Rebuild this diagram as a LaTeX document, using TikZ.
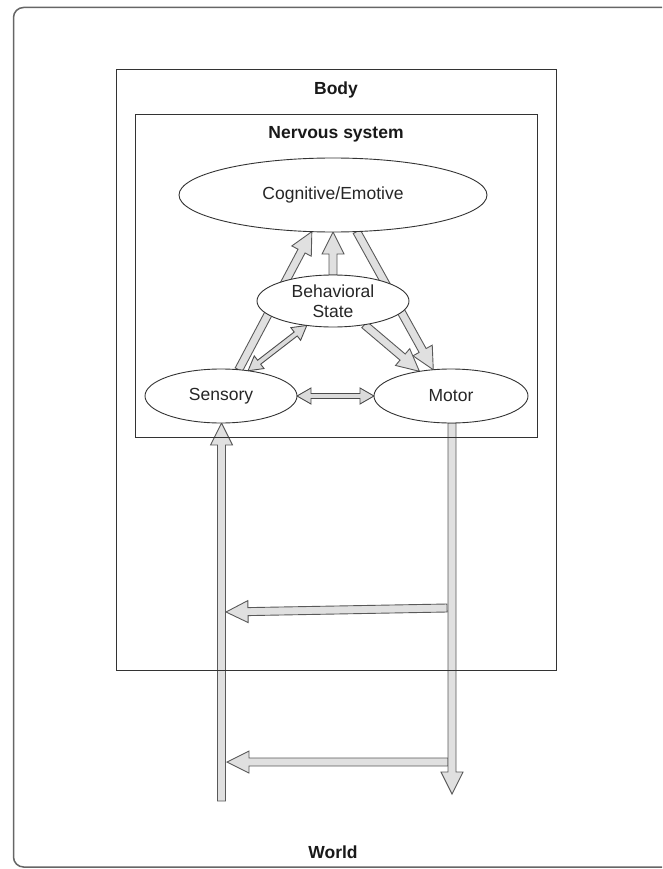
\documentclass[tikz,border=0pt]{standalone}
\usepackage{fontspec}
\setmainfont{Liberation Sans}
\usetikzlibrary{shapes.geometric,calc}
\pgfdeclarelayer{bg}
\pgfsetlayers{bg,main}
\tikzset{
  lbl/.style={font=\fontsize{17.5}{20}\selectfont, text=black!85},
  ttl/.style={font=\fontsize{17.5}{20}\selectfont\bfseries, text=black!90},
  ell/.style={ellipse, draw=black!80, line width=0.9pt, fill=white, inner sep=0pt, outer sep=0pt, align=center, lbl},
  boxline/.style={draw=black!80, line width=1pt},
  blockarrow/.style={draw=black!65, line width=0.9pt, fill=black!12, line join=miter},
  dblarrow/.style={draw=black!70, line width=0.9pt, fill=black!14, line join=miter},
}
\newcommand{\myarrowgeom}[2]{%
  \path let \p1=(#1), \p2=(#2) in \pgfextra{%
    \pgfmathparse{atan2(\y2-\y1,\x2-\x1)}\xdef\myang{\pgfmathresult}%
    \pgfmathparse{veclen(\x2-\x1,\y2-\y1)}\xdef\mylen{\pgfmathresult}};%
}
\newcommand{\sarrow}[2]{%
  \myarrowgeom{#1}{#2}%
  \draw[blockarrow, shift={(#1)}, rotate=\myang]
    (0pt,4pt) -- ({\mylen pt-22pt},4pt) -- ({\mylen pt-22pt},11pt) -- ({\mylen pt},0pt)
    -- ({\mylen pt-22pt},-11pt) -- ({\mylen pt-22pt},-4pt) -- (0pt,-4pt) -- cycle;
}
\newcommand{\darrow}[2]{%
  \myarrowgeom{#1}{#2}%
  \draw[dblarrow, shift={(#1)}, rotate=\myang]
    (0pt,0pt) -- (14pt,8pt) -- (14pt,2.5pt) -- ({\mylen pt-14pt},2.5pt) -- ({\mylen pt-14pt},8pt)
    -- ({\mylen pt},0pt) -- ({\mylen pt-14pt},-8pt) -- ({\mylen pt-14pt},-2.5pt)
    -- (14pt,-2.5pt) -- (14pt,-8pt) -- cycle;
}
\begin{document}
\begin{tikzpicture}[x=1pt,y=-1pt]
\useasboundingbox (0,0) rectangle (662,869);
\begin{scope}
\clip (0,0) rectangle (662,869);
\draw[draw=black!60, line width=1.5pt, rounded corners=10pt] (13.5,7.5) rectangle (720,867);
\end{scope}

% nodes
\node[ell, minimum width=308pt, minimum height=74pt] (cog) at (333,195) {Cognitive/Emotive};
\node[ell, minimum width=152pt, minimum height=52pt] (beh) at (333,301) {Behavioral\\State};
\node[ell, minimum width=152pt, minimum height=54pt] (sen) at (221,396) {Sensory};
\node[ell, minimum width=154pt, minimum height=54pt] (mot) at (451,396) {Motor};

% free ends
\coordinate (senbot) at (221.5,801);
\coordinate (motbot) at (452,794);
\coordinate (f1s) at (447,608);
\coordinate (f1e) at (226,612);
\coordinate (f2s) at (448,762);
\coordinate (f2e) at (227,762);
\coordinate (motout) at (452,423);
\coordinate (senin) at (221.5,423);

\begin{pgfonlayer}{bg}
% connectors inside nervous system
\sarrow{sen.56}{cog.240}
\sarrow{beh.north}{cog.south}
\sarrow{cog.-57}{mot.124}
\sarrow{beh.-37}{mot.142}
\darrow{sen.43}{beh.223}
\darrow{sen.east}{mot.west}

% loops through body and world
\sarrow{f1s}{f1e}
\sarrow{f2s}{f2e}
\sarrow{senbot}{senin}
\sarrow{motout}{motbot}
\end{pgfonlayer}

% boxes
\draw[boxline] (116,70) rectangle (556,670);
\draw[boxline] (135,115) rectangle (537,437);
\node[ttl] (body) at (336,90) {Body};
\node[ttl] (ns) at (336,134) {Nervous system};
\node[ttl] (world) at (333,852) {World};
\end{tikzpicture}
\end{document}
